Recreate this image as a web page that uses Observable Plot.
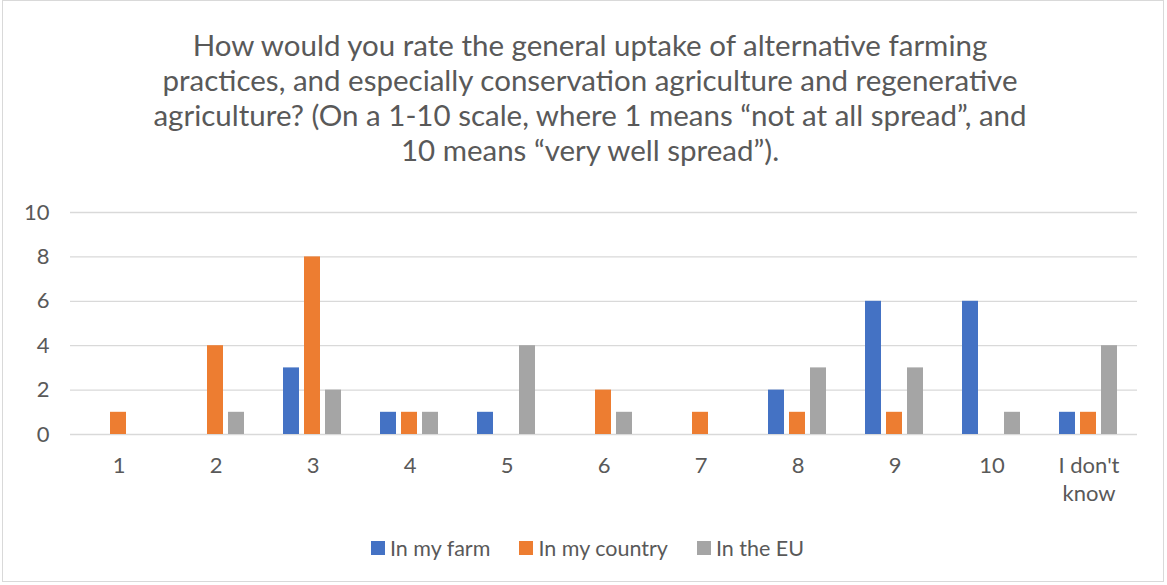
<!DOCTYPE html>
<html>
<head>
<meta charset="utf-8">
<script src="https://cdn.jsdelivr.net/npm/d3@7"></script>
<script src="https://cdn.jsdelivr.net/npm/@observablehq/plot@0.6"></script>
<style>
  html, body { margin: 0; padding: 0; background: #fff; }
  #wrap { position: relative; width: 1167px; height: 585px; overflow: hidden; font-family: Lato, "Open Sans", sans-serif; color: #595959; }
  #frame { position: absolute; left: 2px; top: 0px; width: 1162px; height: 582px; border: 1px solid #d9d9d9; box-sizing: border-box; }
  #title { position: absolute; left: 0; top: 27px; width: 1180px; text-align: center; font-size: 29.5px; line-height: 35px; color: #595959; }
  #chart { position: absolute; left: 0; top: 190px; }
  #legend { position: absolute; top: 535px; left: 0; width: 1175px; display: flex; justify-content: center; gap: 29px; font-size: 21.5px; }
  .item { display: flex; align-items: center; gap: 5px; }
  .sw { width: 14px; height: 14px; display: inline-block; }
</style>
</head>
<body>
<div id="wrap">
  <div id="frame"></div>
  <div id="title"></div>
  <div id="chart"></div>
  <div id="legend"></div>
</div>
<script>
const titleLines = [
  "How would you rate the general uptake of alternative farming",
  "practices, and especially conservation agriculture and regenerative",
  "agriculture? (On a 1-10 scale, where 1 means “not at all spread”, and",
  "10 means “very well spread”)."
];
const categories = ["1", "2", "3", "4", "5", "6", "7", "8", "9", "10", "I don't know"];
const series = ["In my farm", "In my country", "In the EU"];
const colors = ["#4472C4", "#ED7D31", "#A5A5A5"];
const farm    = [0, 0, 3, 1, 1, 0, 0, 2, 6, 6, 1];
const country = [1, 4, 8, 1, 0, 2, 1, 1, 1, 0, 1];
const eu      = [0, 1, 2, 1, 4, 1, 0, 3, 3, 1, 4];
const yTicks = [0, 2, 4, 6, 8, 10];

const valuesBySeries = [farm, country, eu];
const data = [];
categories.forEach((c, i) => {
  series.forEach((s, j) => data.push({category: c, series: s, value: valuesBySeries[j][i]}));
});

document.getElementById("title").innerHTML = titleLines.join("<br>");

const chart = Plot.plot({
  width: 1167,
  height: 330,
  marginLeft: 67,
  marginRight: 27,
  marginTop: 22,
  marginBottom: 86,
  style: {fontFamily: "Lato, 'Open Sans', sans-serif", fontSize: "22px", color: "#595959", background: "transparent"},
  fx: {domain: categories, padding: 0, label: null},
  x: {domain: series, paddingInner: 0.23, paddingOuter: 0.83, axis: null},
  y: {domain: [0, 10], label: null},
  color: {domain: series, range: colors},
  marks: [
    Plot.gridY(yTicks, {stroke: "#d9d9d9", strokeOpacity: 1, strokeWidth: 1.3}),
    Plot.rectY(data, {fx: "category", x: "series", y: "value", fill: "series"}),
    Plot.axisY(yTicks, {tickSize: 0, tickPadding: 21, fontSize: 22, fill: "#595959", label: null}),
    Plot.axisFx({anchor: "bottom", tickSize: 0, tickPadding: 19, fontSize: 22, fill: "#595959", lineHeight: 1.25, label: null,
      tickFormat: d => d === "I don't know" ? "I don't\nknow" : d})
  ]
});
document.getElementById("chart").appendChild(chart);

const legend = document.getElementById("legend");
series.forEach((s, i) => {
  const it = document.createElement("div");
  it.className = "item";
  it.innerHTML = `<span class="sw" style="background:${colors[i]}"></span><span>${s}</span>`;
  legend.appendChild(it);
});
</script>
</body>
</html>
